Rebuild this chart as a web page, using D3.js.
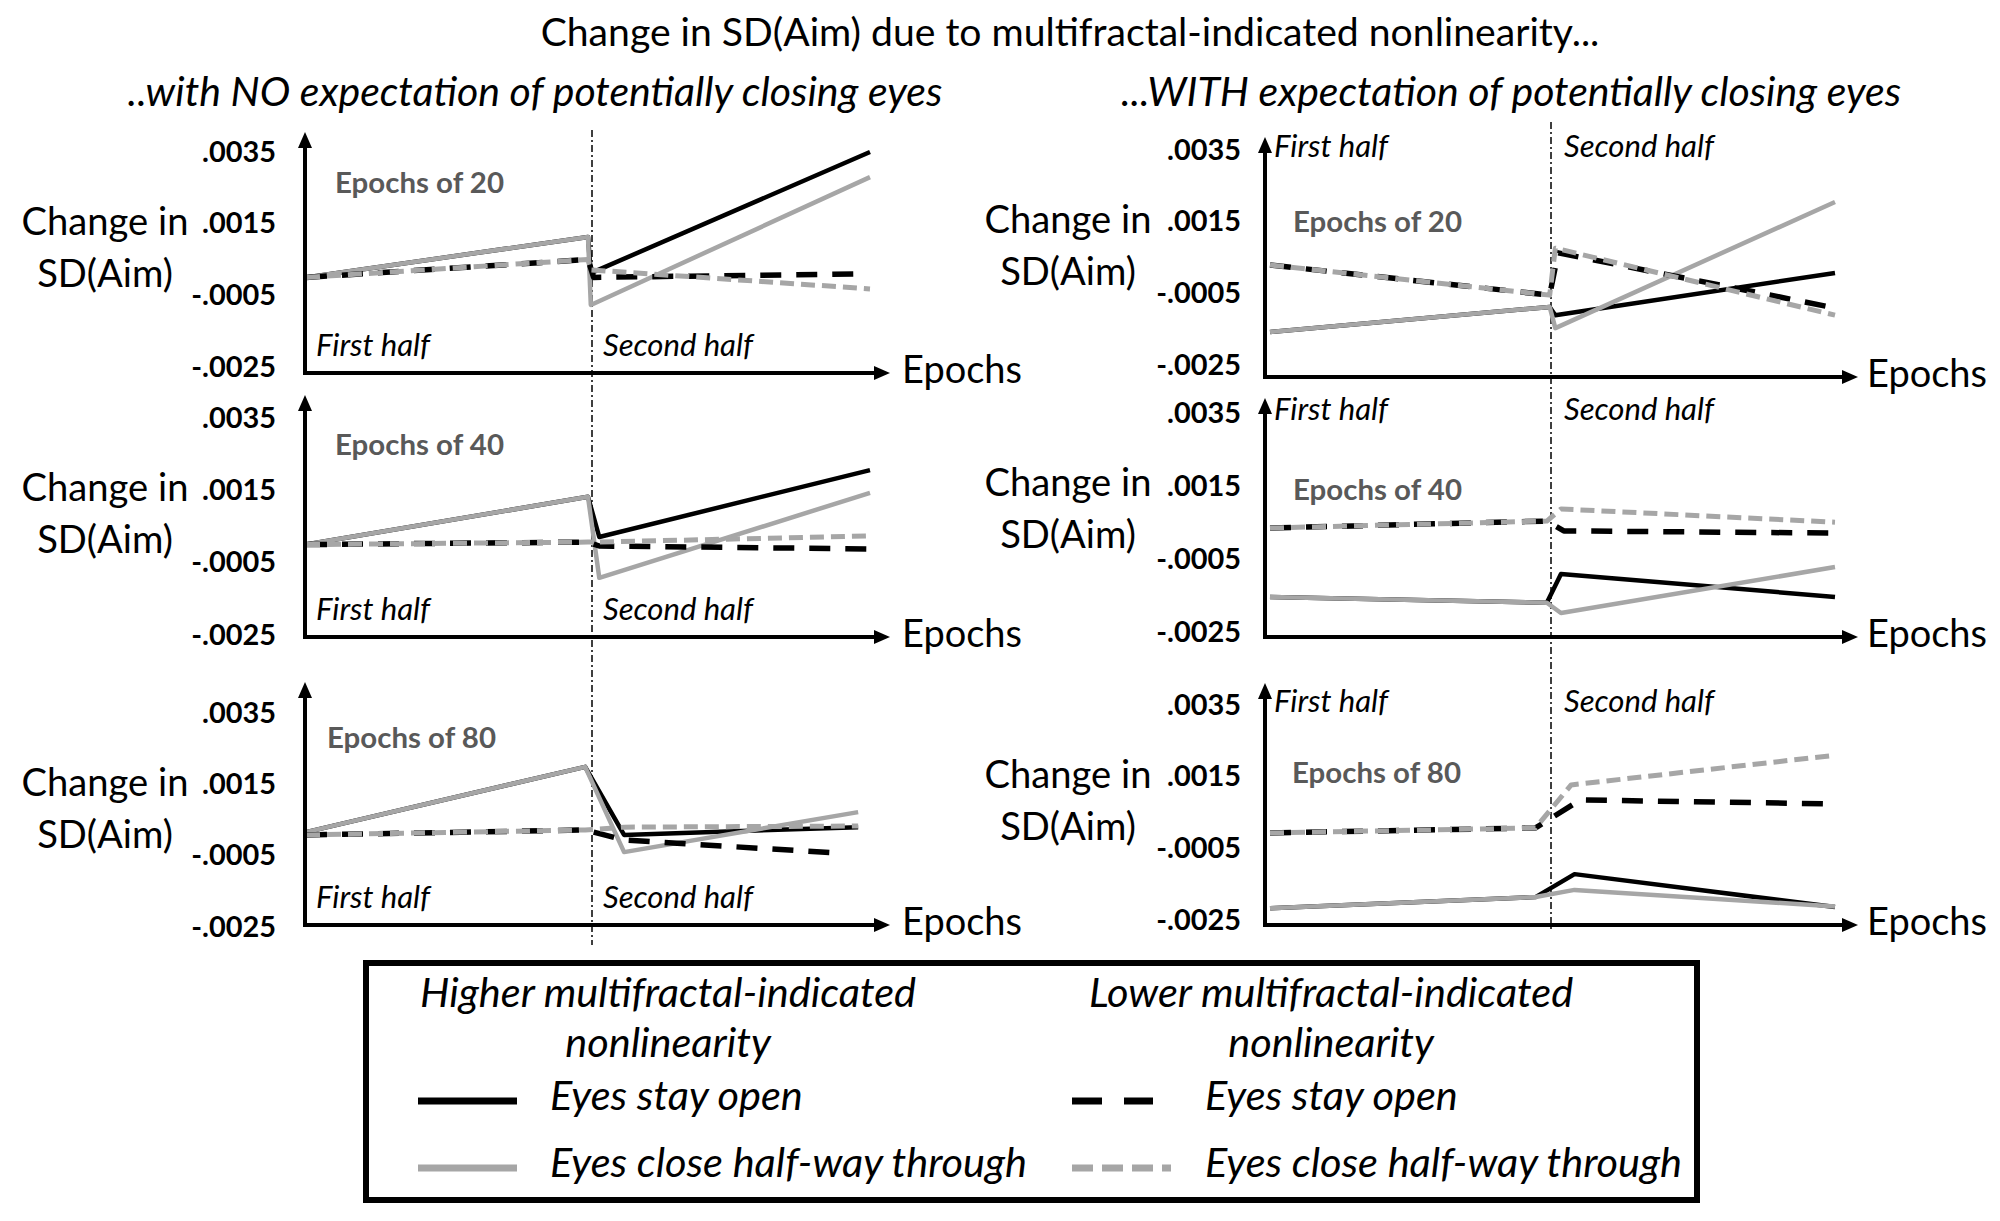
<!DOCTYPE html>
<html>
<head>
<meta charset="utf-8">
<script src="https://cdn.jsdelivr.net/npm/d3@7"></script>
<style>
  body { margin: 0; background: #fff; }
  svg { display: block; }
  text { font-family: Lato, "Open Sans", sans-serif; }
</style>
</head>
<body>
<svg id="chart" width="2000" height="1221"></svg>
<script>
// x = share of the session (0 = start, 0.5 = eyes may close, 1 = end)
// y = change in SD(Aim)
// series order: higher+open, higher+close, lower+open, lower+close
const noExp20 = [
  [[0, 0.0000], [0.5, 0.00113], [0.505, 0.00012], [1, 0.0035]],
  [[0, 0.0000], [0.5, 0.00113], [0.505, -0.00077], [1, 0.0028]],
  [[0, 0.0000], [0.5, 0.0005], [0.51, 0.0000], [0.99, 0.0001]],
  [[0, 0.0000], [0.5, 0.0005], [0.505, 0.00021], [1, -0.00032]]
];
const noExp40 = [
  [[0, 0.0000], [0.5, 0.00132], [0.52, 0.00021], [1, 0.00206]],
  [[0, 0.0000], [0.5, 0.00132], [0.52, -0.00092], [1, 0.00143]],
  [[0, 0.0000], [0.5, 0.00007], [0.52, -0.00004], [1, -0.00012]],
  [[0, 0.0000], [0.5, 0.00007], [0.52, 0.00007], [1, 0.00024]]
];
const noExp80 = [
  [[0, 0.00016], [0.495, 0.00199], [0.564, 0.00008], [0.979, 0.0003]],
  [[0, 0.00016], [0.495, 0.00199], [0.564, -0.0004], [0.979, 0.00072]],
  [[0, 0.00008], [0.495, 0.00022], [0.564, -0.00006], [0.945, -0.00043]],
  [[0, 0.00008], [0.495, 0.00022], [0.564, 0.0003], [0.979, 0.00033]]
];
const withExp20 = [
  [[0, -0.00158], [0.495, -0.00088], [0.505, -0.00111], [1, 0.00007]],
  [[0, -0.00158], [0.495, -0.00088], [0.505, -0.00147], [1, 0.00205]],
  [[0, 0.00029], [0.495, -0.00055], [0.51, 0.00063], [1, -0.00091]],
  [[0, 0.00029], [0.495, -0.00055], [0.505, 0.00076], [1, -0.00111]]
];
const withExp40 = [
  [[0, -0.00154], [0.49, -0.0017], [0.515, -0.00091], [1, -0.00154]],
  [[0, -0.00154], [0.49, -0.0017], [0.515, -0.00198], [1, -0.00072]],
  [[0, 0.00035], [0.49, 0.00054], [0.52, 0.00027], [1, 0.00021]],
  [[0, 0.00035], [0.49, 0.00054], [0.515, 0.00087], [1, 0.00051]]
];
const withExp80 = [
  [[0, -0.00217], [0.47, -0.00186], [0.539, -0.00122], [1, -0.00214]],
  [[0, -0.00217], [0.47, -0.00186], [0.539, -0.00166], [1, -0.00212]],
  [[0, -0.00007], [0.47, 0.00007], [0.549, 0.00085], [1, 0.00074]],
  [[0, -0.00007], [0.47, 0.00007], [0.533, 0.00127], [0.99, 0.00208]]
];

const yTicks = [0.0035, 0.0015, -0.0005, -0.0025];
const epochLabels = ['Epochs of 20', 'Epochs of 40', 'Epochs of 80'];
const seriesLabels = ['Eyes stay open', 'Eyes close half-way through', 'Eyes stay open', 'Eyes close half-way through'];
const groupLabels = [['Higher multifractal-indicated', 'nonlinearity'], ['Lower multifractal-indicated', 'nonlinearity']];
const titleText = 'Change in SD(Aim) due to multifractal-indicated nonlinearity...';
const subtitles = ['..with NO expectation of potentially closing eyes', '...WITH expectation of potentially closing eyes'];

// drawing styles per series (same order as the data)
const STYLES = [
  { color: '#000', width: 4.5, dash: null },
  { color: '#a6a6a6', width: 4.5, dash: null },
  { color: '#000', width: 5.5, dash: '21,15' },
  { color: '#a6a6a6', width: 5, dash: '14,7' }
];

const svg = d3.select('#chart');

// pick a font size so a sample string has the wanted width
function fitSize(sample, width, weight, style) {
  const t = svg.append('text').text(sample)
    .attr('font-size', 100).attr('font-weight', weight).attr('font-style', style);
  const w = t.node().getComputedTextLength();
  t.remove();
  return 100 * width / w;
}
const FS = {
  title: fitSize(titleText, 1059, 'normal', 'normal'),
  sub: fitSize(subtitles[0], 815, 'normal', 'italic'),
  ylab: fitSize('Change in', 167, 'normal', 'normal'),
  tick: fitSize('.0035', 74, 'bold', 'normal'),
  epochs: fitSize('Epochs', 120, 'normal', 'normal'),
  tag: fitSize('Epochs of 20', 169, 'bold', 'normal'),
  half: fitSize('First half', 114, 'normal', 'italic'),
  legend: fitSize(groupLabels[0][0], 496, 'normal', 'italic')
};

const columns = [
  { axisX: 305, x0: 306, x1: 870, tip: 890, divider: 592, divTop: 130, divBot: 945,
    tickRight: 276, ylabX: 105, epochsX: 902, halfTop: false, firstX: 316, secondX: 603, subX: 535 },
  { axisX: 1265, x0: 1270, x1: 1835, tip: 1858, divider: 1551, divTop: 122, divBot: 932,
    tickRight: 1241, ylabX: 1068, epochsX: 1867, halfTop: true, firstX: 1274, secondX: 1564, subX: 1511 }
];

const panels = [
  { data: noExp20, col: 0, top: 152, bot: 367, axisY: 373, axisTop: 132, tag: 0, tagX: 335, tagY: 193 },
  { data: noExp40, col: 0, top: 418, bot: 635, axisY: 637, axisTop: 395, tag: 1, tagX: 335, tagY: 455 },
  { data: noExp80, col: 0, top: 713, bot: 927, axisY: 925, axisTop: 682, tag: 2, tagX: 327, tagY: 748 },
  { data: withExp20, col: 1, top: 150, bot: 365, axisY: 377, axisTop: 137, tag: 0, tagX: 1293, tagY: 232 },
  { data: withExp40, col: 1, top: 413, bot: 632, axisY: 637, axisTop: 398, tag: 1, tagX: 1293, tagY: 500 },
  { data: withExp80, col: 1, top: 705, bot: 920, axisY: 925, axisTop: 683, tag: 2, tagX: 1292, tagY: 783 }
];

const tickFormat = v => (v < 0 ? '-' : '') + d3.format('.4f')(Math.abs(v)).slice(1);

// title and column headings
svg.append('text').attr('x', 1070).attr('y', 46).attr('text-anchor', 'middle')
  .attr('font-size', FS.title).text(titleText);
columns.forEach((c, i) => {
  svg.append('text').attr('x', c.subX).attr('y', 106).attr('text-anchor', 'middle')
    .attr('font-size', FS.sub).attr('font-style', 'italic').text(subtitles[i]);
  // divider between halves, runs through the whole column
  svg.append('line').attr('x1', c.divider).attr('x2', c.divider).attr('y1', c.divTop).attr('y2', c.divBot)
    .attr('stroke', '#000').attr('stroke-width', 1.5).attr('stroke-dasharray', '7,3,2,3');
});

const lineGen = (x, y) => d3.line().x(d => x(d[0])).y(d => y(d[1]));

panels.forEach(p => {
  const c = columns[p.col];
  const g = svg.append('g');
  const x = d3.scaleLinear().domain([0, 1]).range([c.x0, c.x1]);
  const y = d3.scaleLinear().domain([-0.0025, 0.0035]).range([p.bot, p.top]);

  // tick labels
  const ax = g.append('g').attr('transform', `translate(${c.tickRight},0)`)
    .call(d3.axisLeft(y).tickValues(yTicks).tickFormat(tickFormat).tickSize(0).tickPadding(0));
  ax.select('.domain').remove();
  ax.selectAll('text').attr('font-size', FS.tick).attr('font-weight', 'bold')
    .attr('fill', '#000').attr('font-family', 'Lato, "Open Sans", sans-serif');

  // y label
  ['Change in', 'SD(Aim)'].forEach((t, i) => {
    g.append('text').attr('x', c.ylabX).attr('y', p.top + 83 + i * 52).attr('text-anchor', 'middle')
      .attr('font-size', FS.ylab).text(t);
  });

  // series
  p.data.forEach((pts, i) => {
    const s = STYLES[i];
    g.append('path').datum(pts).attr('d', lineGen(x, y)).attr('fill', 'none')
      .attr('stroke', s.color).attr('stroke-width', s.width)
      .attr('stroke-dasharray', s.dash).attr('stroke-linejoin', 'round');
  });

  // axes with arrow heads
  g.append('path').attr('d', `M${c.axisX},${p.axisY + 2}V${p.axisTop + 14}`)
    .attr('stroke', '#000').attr('stroke-width', 4);
  g.append('path').attr('d', `M${c.axisX - 7},${p.axisTop + 16}L${c.axisX},${p.axisTop}L${c.axisX + 7},${p.axisTop + 16}Z`)
    .attr('fill', '#000');
  g.append('path').attr('d', `M${c.axisX - 2},${p.axisY}H${c.tip - 14}`)
    .attr('stroke', '#000').attr('stroke-width', 4);
  g.append('path').attr('d', `M${c.tip - 16},${p.axisY - 7}L${c.tip},${p.axisY}L${c.tip - 16},${p.axisY + 7}Z`)
    .attr('fill', '#000');
  g.append('text').attr('x', c.epochsX).attr('y', p.axisY + 10).attr('font-size', FS.epochs).text('Epochs');

  // panel tag and half labels
  g.append('text').attr('x', p.tagX).attr('y', p.tagY).attr('font-size', FS.tag)
    .attr('font-weight', 'bold').attr('fill', '#595959').text(epochLabels[p.tag]);
  const hy = c.halfTop ? p.top + 7 : p.axisY - 17;
  g.append('text').attr('x', c.firstX).attr('y', hy).attr('font-size', FS.half)
    .attr('font-style', 'italic').text('First half');
  g.append('text').attr('x', c.secondX).attr('y', hy).attr('font-size', FS.half)
    .attr('font-style', 'italic').text('Second half');
});

// legend
const lg = svg.append('g');
lg.append('rect').attr('x', 366).attr('y', 963).attr('width', 1331).attr('height', 237)
  .attr('fill', 'none').attr('stroke', '#000').attr('stroke-width', 6);
const legendCols = [
  { center: 668, swX: 418, swW: 99, textX: 550 },
  { center: 1331, swX: 1072, swW: 99, textX: 1205 }
];
legendCols.forEach((lc, i) => {
  groupLabels[i].forEach((t, j) => {
    lg.append('text').attr('x', lc.center).attr('y', 1007 + j * 50).attr('text-anchor', 'middle')
      .attr('font-size', FS.legend).attr('font-style', 'italic').text(t);
  });
  [0, 1].forEach(k => {
    const si = i * 2 + k;
    const s = STYLES[si];
    const sy = k === 0 ? 1101 : 1168;
    lg.append('line').attr('x1', lc.swX).attr('x2', lc.swX + (s.dash && k === 0 ? 81 : lc.swW))
      .attr('y1', sy).attr('y2', sy)
      .attr('stroke', s.color).attr('stroke-width', 7)
      .attr('stroke-dasharray', s.dash ? (k === 0 ? '30,22' : '21,9') : null);
    lg.append('text').attr('x', lc.textX).attr('y', k === 0 ? 1110 : 1177)
      .attr('font-size', FS.legend).attr('font-style', 'italic').text(seriesLabels[si]);
  });
});
</script>
</body>
</html>
